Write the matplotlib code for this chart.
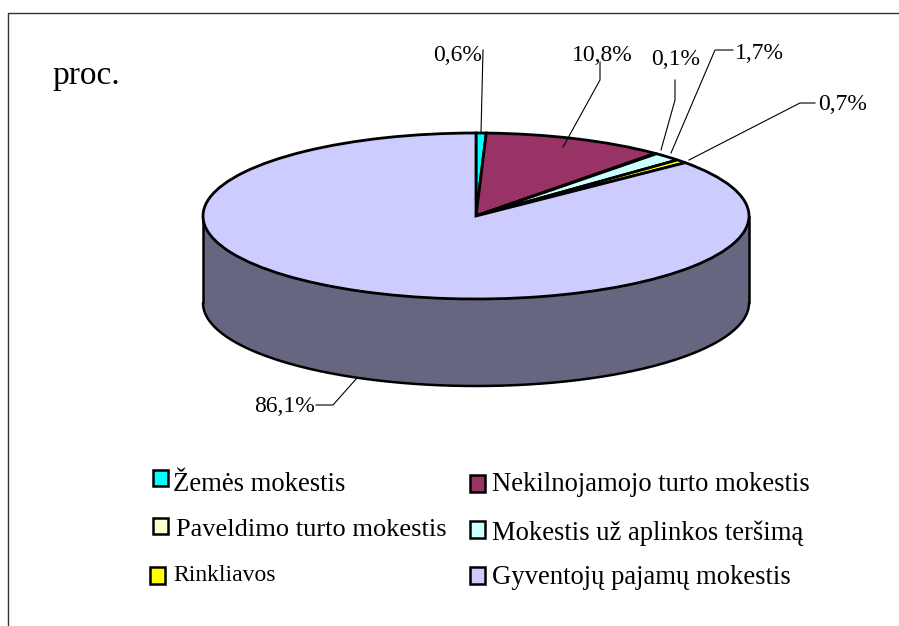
import numpy as np
import matplotlib
matplotlib.use('Agg')
import matplotlib.pyplot as plt
from matplotlib.patches import Rectangle

plt.rcParams['font.family'] = ['Liberation Serif', 'DejaVu Serif']

# Shares of the pie, clockwise from the top
categories = ['Žemės mokestis', 'Nekilnojamojo turto mokestis', 'Paveldimo turto mokestis',
              'Mokestis už aplinkos teršimą', 'Rinkliavos', 'Gyventojų pajamų mokestis']
values = [0.6, 10.8, 0.1, 1.7, 0.7, 86.1]
value_labels = ['0,6%', '10,8%', '0,1%', '1,7%', '0,7%', '86,1%']
colors = ['#00FFFF', '#993366', '#FFFFCC', '#CCFFFF', '#FFFF00', '#CCCCFF']
side_color = '#666680'

W, H = 899, 626
CX, CY, RX, RY = 476, 216, 273, 83
DEPTH = 87

# (text x, text baseline y, leader line points) in pixels
label_layout = [
    (433, 61, [(483, 50), (481, 133)]),
    (572, 61, [(600, 62), (600, 80), (563, 147)]),
    (651, 65, [(675, 80), (675, 100), (661, 150)]),
    (735, 59, [(733, 50), (715, 50), (671, 153)]),
    (818, 110, [(815, 103), (800, 103), (689, 160)]),
    (254, 412, [(316, 405), (333, 405), (357, 378)]),
]
# (swatch x, swatch top, swatch bottom, text x, text baseline, font size)
legend_layout = [
    (153, 470, 486, 173, 491, 19.2),
    (470, 475, 492, 492, 491, 19.2),
    (153, 518, 534, 176, 536, 19),
    (470, 521, 538, 492, 540, 19.2),
    (150, 567, 584, 173, 581, 17),
    (470, 567, 584, 492, 584, 19.2),
]


def main():
    fig = plt.figure(figsize=(W / 100, H / 100), dpi=100)

    # page layer in pixel coordinates
    page = fig.add_axes([0, 0, 1, 1])
    page.set_xlim(0, W)
    page.set_ylim(H, 0)
    page.axis('off')
    page.plot([8, 8, W], [H, 13, 13], color='#333333', lw=1)

    # pie layer, squashed unit circle
    ax = fig.add_axes([(CX - RX) / W, 1 - (CY + RY) / H, 2 * RX / W, 2 * RY / H])
    ax.pie(values, colors=colors, startangle=90, counterclock=False, radius=1,
           wedgeprops={'edgecolor': 'black', 'linewidth': 2, 'zorder': 3})
    ax.set_aspect('auto')
    ax.set_xlim(-1, 1)
    ax.set_ylim(-1, 1)
    ax.patch.set_alpha(0)

    # rim below the front half
    t = np.linspace(np.pi, 2 * np.pi, 200)
    x = np.cos(t)
    y = np.sin(t)
    d = DEPTH / RY
    ax.fill_between(x, y, y - d, color=side_color, clip_on=False, zorder=1, lw=0)
    ax.plot(x, y - d, color='black', lw=1.8, clip_on=False, zorder=2, solid_capstyle='round')
    ax.plot([-1, -1], [0, -d], color='black', lw=1.8, clip_on=False, zorder=2, solid_capstyle='round')
    ax.plot([1, 1], [0, -d], color='black', lw=1.8, clip_on=False, zorder=2, solid_capstyle='round')

    page.text(52, 84, 'proc.', fontsize=24, color='black')

    for text, (tx, ty, pts) in zip(value_labels, label_layout):
        page.text(tx, ty, text, fontsize=17, color='black')
    leader = fig.add_axes([0, 0, 1, 1])
    leader.set_xlim(0, W)
    leader.set_ylim(H, 0)
    leader.axis('off')
    for tx, ty, pts in label_layout:
        xs, ys = zip(*pts)
        leader.plot(xs, ys, color='black', lw=0.8)

    for name, color, (sx, top, bottom, tx, ty, fs) in zip(categories, colors, legend_layout):
        page.add_patch(Rectangle((sx, top), 15, bottom - top, facecolor=color,
                                 edgecolor='black', lw=1.8))
        page.text(tx, ty, name, fontsize=fs, color='black')

    fig.savefig('out.png', dpi=100)


if __name__ == "__main__":
    main()
